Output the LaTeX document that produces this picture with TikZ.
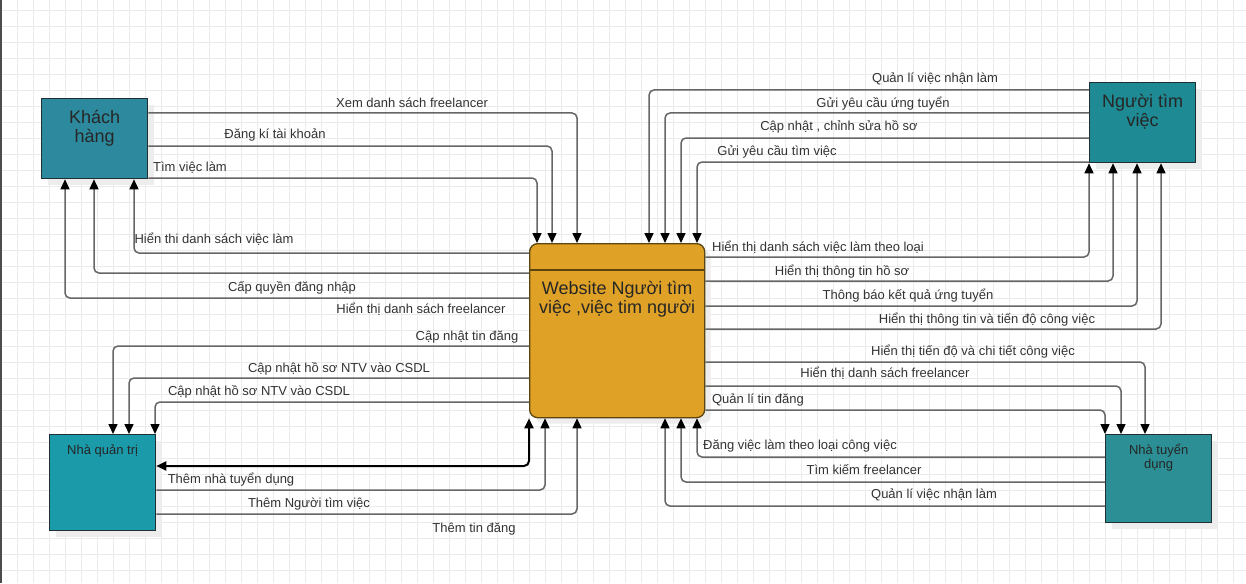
\documentclass[tikz,border=0pt]{standalone}
\usepackage{fontspec}
\setmainfont{Liberation Sans}
\usetikzlibrary{arrows.meta,shadows}
\definecolor{khfill}{HTML}{2D8A9E}
\definecolor{ntvfill}{HTML}{1E8A93}
\definecolor{nqtfill}{HTML}{1B9AA9}
\definecolor{ntdfill}{HTML}{2B8F95}
\definecolor{webfill}{HTML}{DFA226}
\definecolor{webdraw}{HTML}{5A4510}
\definecolor{boxdraw}{HTML}{1F2F33}
\definecolor{linegray}{HTML}{666666}
\definecolor{txt}{HTML}{333333}
\definecolor{gridgray}{HTML}{EBEBEB}
\begin{document}
\begin{tikzpicture}[x=1pt, y=-1pt,
    box/.style={draw=boxdraw, line width=1.3pt, anchor=north west, inner sep=0pt,
      drop shadow={shadow xshift=6pt, shadow yshift=-6pt, fill=black!7, opacity=1}},
    bigtext/.style={anchor=north, align=center, inner sep=0pt, text=black!85,
      font=\fontsize{18}{19}\selectfont},
    smalltext/.style={anchor=north, align=center, inner sep=0pt, text=black!85,
      font=\fontsize{13}{14}\selectfont},
    flow/.style={draw=linegray, line width=1.5pt, rounded corners=5pt,
      -{Triangle[length=10pt, width=9pt, color=black]}},
    lbl/.style={inner sep=0pt, text=txt, text height=10pt, text depth=2pt,
      font=\fontsize{13}{15}\selectfont}]
    \useasboundingbox[fill=white] (0,0) rectangle (1246,583);
    \foreach \x in {17,33,...,1246} \draw[gridgray] (\x,0) -- (\x,583);
    \foreach \y in {10,26,...,583} \draw[gridgray] (0,\y) -- (1246,\y);
    \draw[black!70, line width=2pt] (1,0) -- (1,583);

    % boxes
    \node[box, fill=khfill, minimum width=106pt, minimum height=80pt,
      label={[bigtext, yshift=-12.5pt]north:{Khách\\hàng}}] (kh) at (41,98) {};
    \node[box, fill=ntvfill, minimum width=106pt, minimum height=80pt,
      label={[bigtext, yshift=-12pt]north:{Người tìm\\việc}}] (ntv) at (1089,82) {};
    \node[box, fill=nqtfill, minimum width=106pt, minimum height=96pt,
      label={[smalltext, yshift=-10.5pt]north:{Nhà quản trị}}] (nqt) at (49,434) {};
    \node[box, fill=ntdfill, minimum width=106pt, minimum height=88pt,
      label={[smalltext, yshift=-9.5pt]north:{Nhà tuyển\\dụng}}] (ntd) at (1105,434) {};
    \node[box, fill=webfill, draw=webdraw, rounded corners=8pt,
      minimum width=175pt, minimum height=174pt,
      label={[bigtext, yshift=-38pt]north:{Website Người tìm\\việc ,việc tim người}}] (web) at (529,243) {};
    \draw[webdraw, line width=2pt] (web.west |- 0,270) -- (web.east |- 0,270);

    % Khach hang
    \foreach \y/\x in {113/577, 146/552, 178/537}
        \draw[flow] (kh.east |- 0,\y) -| (web.north -| \x,0);
    \foreach \y/\x in {253/134, 273/94, 298/65}
        \draw[flow] (web.west |- 0,\y) -| (kh.south -| \x,0);
    % Nguoi tim viec
    \foreach \y/\x in {90/649, 113/665, 138/681, 162/697}
        \draw[flow] (ntv.west |- 0,\y) -| (web.north -| \x,0);
    \foreach \y/\x in {257/1089, 281/1113, 306/1137, 329/1161}
        \draw[flow] (web.east |- 0,\y) -| (ntv.south -| \x,0);
    % Nha tuyen dung
    \foreach \y/\x in {362/1145, 386/1121, 410/1105}
        \draw[flow] (web.east |- 0,\y) -| (ntd.north -| \x,0);
    \foreach \y/\x in {457/697, 482/681, 506/665}
        \draw[flow] (ntd.west |- 0,\y) -| (web.south -| \x,0);
    % Nha quan tri
    \foreach \y/\x in {346/113, 378/129, 402/155}
        \draw[flow] (web.west |- 0,\y) -| (nqt.north -| \x,0);
    \foreach \y/\x in {490/545, 514/577}
        \draw[flow] (nqt.east |- 0,\y) -| (web.south -| \x,0);
    \draw[flow, draw=black, line width=2pt, {Triangle[length=10pt, width=9pt]}-{Triangle[length=10pt, width=9pt]}]
        (nqt.east |- 0,466) -| (web.south west);

    % labels
    \foreach \n/\x/\y/\t in {1/412/103/{Xem danh sách freelancer}, 2/275/134/{Đăng kí tài khoản},
        3/190/167/{Tìm việc làm}, 4/214/239/{Hiển thi danh sách việc làm},
        5/292/287/{Cấp quyền đăng nhập}, 6/421/309/{Hiển thị danh sách freelancer}}
        \node[lbl] (lkh\n) at (\x,\y) {\t};
    \foreach \n/\x/\y/\t in {1/935/79/{Quản lí việc nhận làm}, 2/883/103/{Gửi yêu cầu ứng tuyển},
        3/839/127/{Cập nhật , chỉnh sửa hồ sơ}, 4/777/151/{Gửi yêu cầu tìm việc},
        5/818/247/{Hiển thị danh sách việc làm theo loại}, 6/842/271/{Hiển thị thông tin hồ sơ},
        7/908/295/{Thông báo kết quả ứng tuyển}, 8/987/319/{Hiển thị thông tin và tiến độ công việc}}
        \node[lbl] (lntv\n) at (\x,\y) {\t};
    \foreach \n/\x/\y/\t in {1/973/351/{Hiển thị tiến độ và chi tiết công việc},
        2/885/373/{Hiển thị danh sách freelancer}, 3/758/399/{Quản lí tin đăng},
        4/800/445/{Đăng việc làm theo loại công việc}, 5/864/470/{Tìm kiếm freelancer},
        6/934/494/{Quản lí việc nhận làm}}
        \node[lbl] (lntd\n) at (\x,\y) {\t};
    \foreach \n/\x/\y/\t in {1/467/336/{Cập nhật tin đăng}, 2/339/368/{Cập nhật hồ sơ NTV vào CSDL},
        3/259/391/{Cập nhật hồ sơ NTV vào CSDL}, 4/231/479/{Thêm nhà tuyển dụng},
        5/309/503/{Thêm Người tìm việc}, 6/474/528/{Thêm tin đăng}}
        \node[lbl] (lnqt\n) at (\x,\y) {\t};
\end{tikzpicture}
\end{document}
